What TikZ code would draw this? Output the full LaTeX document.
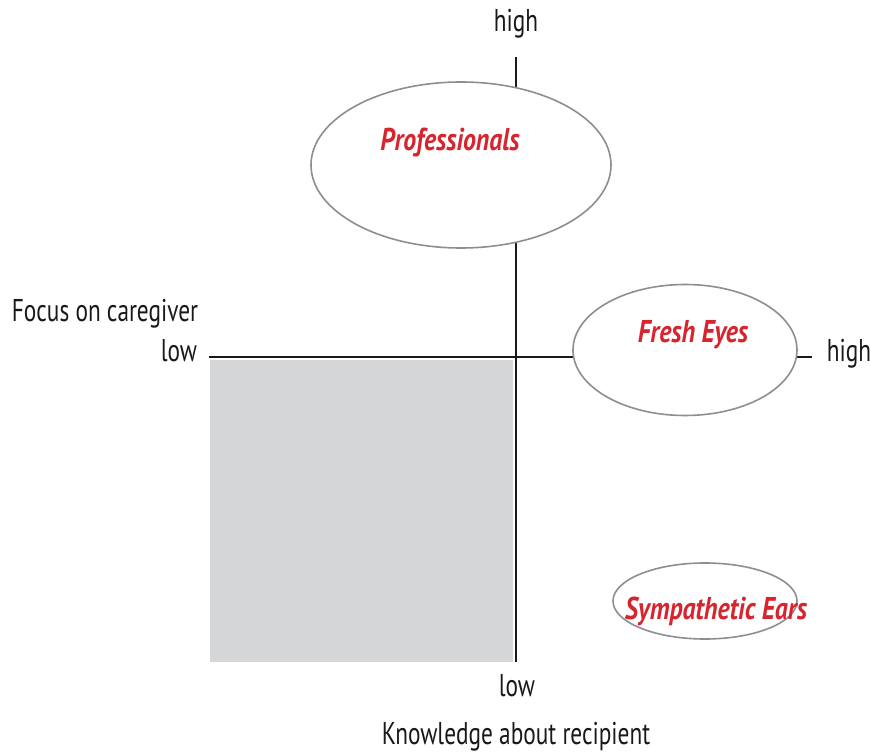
\documentclass[tikz,border=0pt]{standalone}
\usepackage{fontspec}
\setmainfont[FakeStretch=0.74]{PT Sans}
\newfontfamily\grpfont[FakeStretch=0.82]{PT Sans}
\usetikzlibrary{shapes.geometric}
\definecolor{labred}{HTML}{D7252F}
\definecolor{ellgray}{HTML}{8E8E90}
\definecolor{boxgray}{HTML}{D5D6D8}
\tikzset{
  axis/.style={line width=2pt, black!90},
  blob/.style={ellipse, draw=ellgray, line width=1.6pt, fill=white, inner sep=0pt},
  grp/.style={text=labred, font=\grpfont\fontsize{31.5}{36}\selectfont\bfseries\itshape},
  lbl/.style={font=\fontsize{31.5}{36}\selectfont, text=black!90, inner sep=0pt},
}
\begin{document}
\begin{tikzpicture}[x=1pt,y=-1pt]
\useasboundingbox (0,0) rectangle (871,754);
\fill[boxgray] (210,360) rectangle (513,662);
\coordinate (vtop) at (516,57);
\coordinate (vbot) at (516,662);
\coordinate (hl) at (209,357);
\coordinate (hr) at (812,357);
\draw[axis] (vtop) -- (vbot);
\draw[axis] (hl) -- (hr);
\node[blob, minimum width=300pt, minimum height=166pt] (prof) at (461,165) {};
\node[grp] (proft) at (450,143) {Professionals};
\node[blob, minimum width=224pt, minimum height=131pt] (fresh) at (685,350) {};
\node[grp] (fresht) at (693,335) {Fresh Eyes};
\node[blob, minimum width=184pt, minimum height=76pt] (symp) at (705,601) {};
\node[grp] (sympt) at (716,611) {Sympathetic Ears};
\node[lbl] (hightop) at (516,24) {high};
\node[lbl] (highright) at (849,354) {high};
\node[lbl] (lowleft) at (179,351) {low};
\node[lbl] (lowbot) at (517,686) {low};
\node[lbl] (yname) at (105,314) {Focus on caregiver};
\node[lbl] (xname) at (516,737) {Knowledge about recipient};
\end{tikzpicture}
\end{document}
